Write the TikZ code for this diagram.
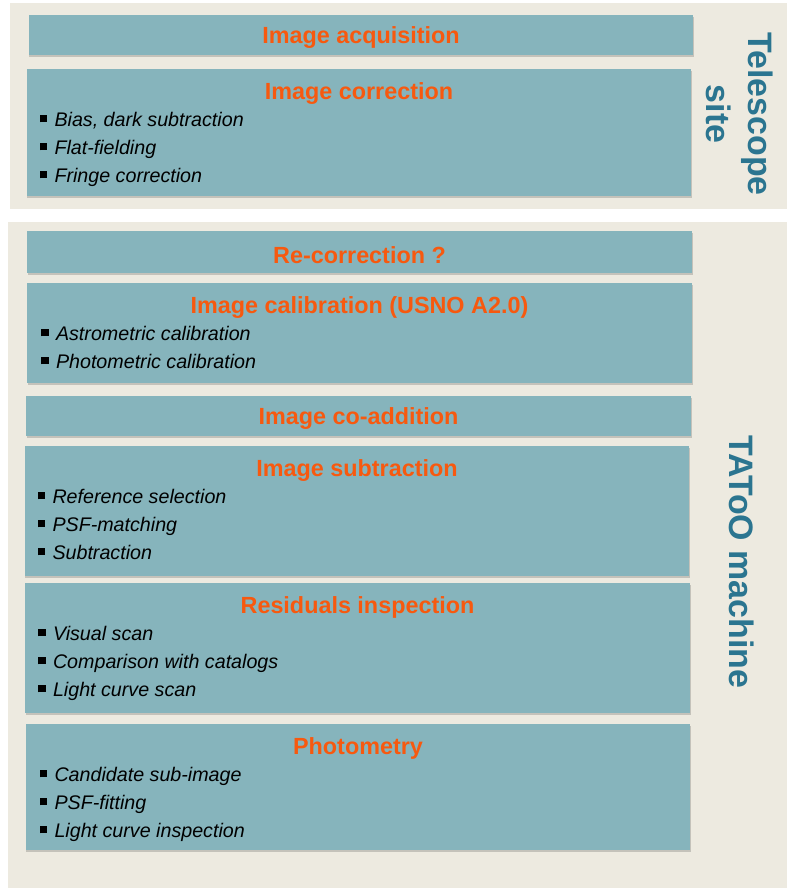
\documentclass[tikz,border=0pt]{standalone}
\usepackage{fontspec}
\setmainfont{Liberation Sans}
\usetikzlibrary{positioning,shadows}
\definecolor{panelbg}{HTML}{EDEAE0}
\definecolor{boxfill}{HTML}{86B4BC}
\definecolor{titleorange}{HTML}{F7590F}
\definecolor{sideteal}{HTML}{2B7590}
\newcommand{\sqb}{\rule[0.2em]{0.38em}{0.38em}\hspace{0.38em}}
\tikzset{
  panel/.style={fill=panelbg, draw=none},
  stage/.style={fill=boxfill, draw=none, minimum width=13.3cm, inner sep=0pt,
                drop shadow={shadow xshift=0.4pt, shadow yshift=-1.2pt,
                             opacity=0.25, fill=black!70}},
  ttl/.style={font=\fontsize{13.3}{15}\selectfont\bfseries, text=titleorange,
              inner sep=0pt},
  itm/.style={anchor=west, font=\fontsize{11.2}{13}\selectfont\itshape,
              inner sep=0pt, text height=0.75em, text depth=0.22em},
  side/.style={rotate=-90, align=center, text=sideteal, inner sep=0pt,
               font=\fontsize{19.3}{23.8}\selectfont\bfseries},
}

\begin{document}
\begin{tikzpicture}[x=0.02cm, y=-0.02cm]
\useasboundingbox (0,0) rectangle (787,888);
% background panels
\fill[panel] (10,3) rectangle (787,209);
\fill[panel] (8,222) rectangle (787,888);

% telescope site
\node[stage, minimum height=0.8cm] (acq) at (361,35) {};
\node[ttl] (acq-t) at ([yshift=-0.06cm]acq) {Image acquisition};

\node[stage, minimum height=2.54cm] (corr) at (359,132.5) {};
\node[ttl] (corr-t) at ([yshift=-0.5cm]corr.north) {Image correction};
\foreach \t [count=\k] in {{Bias, dark subtraction}, Flat-fielding,
                           Fringe correction} {
  \node[itm] (corr-\k) at ([xshift=0.26cm, yshift={-(0.5+0.56*\k)*1cm}]corr.north west)
    {\sqb\t};
}

% TAToO machine
\node[stage, minimum height=0.84cm] (recorr) at (359.5,252) {};
\node[ttl] (recorr-t) at ([yshift=-0.06cm]recorr) {Re-correction ?};

\node[stage, minimum height=2.0cm] (calib) at (359.5,333) {};
\node[ttl] (calib-t) at ([yshift=-0.5cm]calib.north) {Image calibration (USNO A2.0)};
\foreach \t [count=\k] in {Astrometric calibration, Photometric calibration} {
  \node[itm] (calib-\k) at ([xshift=0.28cm, yshift={-(0.5+0.56*\k)*1cm}]calib.north west)
    {\sqb\t};
}

\node[stage, minimum height=0.8cm] (coadd) at (358.5,416) {};
\node[ttl] (coadd-t) at ([yshift=-0.06cm]coadd) {Image co-addition};

\node[stage, minimum height=2.6cm] (subtr) at (357,511) {};
\node[ttl] (subtr-t) at ([yshift=-0.5cm]subtr.north) {Image subtraction};
\foreach \t [count=\k] in {Reference selection, PSF-matching, Subtraction} {
  \node[itm] (subtr-\k) at ([xshift=0.26cm, yshift={-(0.5+0.56*\k)*1cm}]subtr.north west)
    {\sqb\t};
}

\node[stage, minimum height=2.6cm] (resid) at (357.5,648) {};
\node[ttl] (resid-t) at ([yshift=-0.5cm]resid.north) {Residuals inspection};
\foreach \t [count=\k] in {Visual scan, Comparison with catalogs, Light curve scan} {
  \node[itm] (resid-\k) at ([xshift=0.26cm, yshift={-(0.5+0.56*\k)*1cm}]resid.north west)
    {\sqb\t};
}

\node[stage, minimum height=2.52cm] (phot) at (358,787) {};
\node[ttl] (phot-t) at ([yshift=-0.5cm]phot.north) {Photometry};
\foreach \t [count=\k] in {Candidate sub-image, PSF-fitting, Light curve inspection} {
  \node[itm] (phot-\k) at ([xshift=0.28cm, yshift={-(0.5+0.56*\k)*1cm}]phot.north west)
    {\sqb\t};
}

% side labels
\node[side] (tel) at (740,114) {Telescope\\site};
\node[side] (tatoo) at (742,562) {TAToO machine};
\end{tikzpicture}
\end{document}
